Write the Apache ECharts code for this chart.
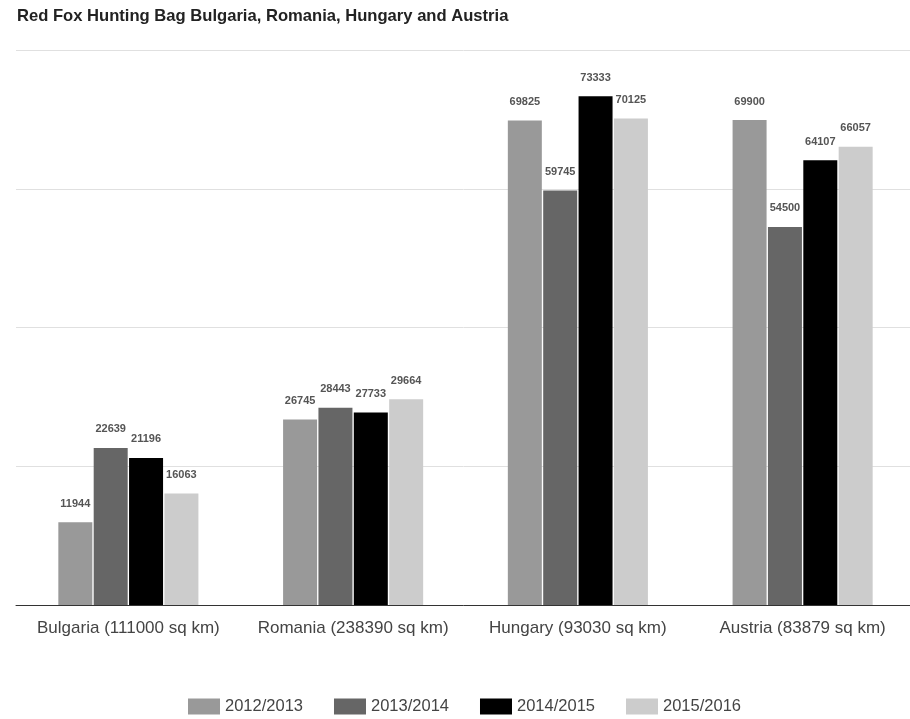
<!DOCTYPE html>
<html><head><meta charset="utf-8">
<script src="https://cdn.jsdelivr.net/npm/echarts@6/dist/echarts.min.js"></script>
<style>html,body{margin:0;padding:0;background:#fff}#c{width:910px;height:719px}</style>
</head><body><div id="c"></div>
<script>
const categories = ['Bulgaria (111000 sq km)', 'Romania (238390 sq km)', 'Hungary (93030 sq km)', 'Austria (83879 sq km)'];
const seriesNames = ['2012/2013', '2013/2014', '2014/2015', '2015/2016'];
const s2012 = [11944, 26745, 69825, 69900];
const s2013 = [22639, 28443, 59745, 54500];
const s2014 = [21196, 27733, 73333, 64107];
const s2015 = [16063, 29664, 70125, 66057];
const colors = ['#999999', '#666666', '#000000', '#cccccc'];
const values = [s2012, s2013, s2014, s2015];

const chart = echarts.init(document.getElementById('c'));
chart.setOption({
  animation: false,
  title: { text: 'Red Fox Hunting Bag Bulgaria, Romania, Hungary and Austria', left: 12, top: 3,
    textStyle: { fontFamily: 'Liberation Sans, Arial', fontSize: 16.6, fontWeight: 'bold', color: '#222' } },
  legend: { top: 693, left: 183, itemWidth: 32, itemHeight: 16, itemGap: 31, icon: 'rect',
    textStyle: { fontFamily: 'Liberation Sans, Arial', fontSize: 16.5, color: '#444' } },
  grid: { left: 16, width: 899, top: 50, height: 555, outerBoundsMode: 'none', containLabel: false },
  xAxis: { type: 'category', data: categories,
    axisLine: { lineStyle: { color: '#333', width: 1 } }, axisTick: { show: false },
    axisLabel: { interval: 0, fontFamily: 'Liberation Sans, Arial', fontSize: 17, color: '#444', margin: 15 } },
  yAxis: { type: 'value', min: 0, max: 80000, interval: 20000,
    axisLabel: { show: false }, axisLine: { show: false }, axisTick: { show: false },
    splitLine: { lineStyle: { color: '#e0e0e0' } } },
  series: seriesNames.map((n, i) => ({
    name: n, type: 'bar', data: values[i], barWidth: 34, barGap: '4%',
    itemStyle: { color: colors[i] },
    label: { show: true, position: 'top', distance: 13, fontFamily: 'Liberation Sans, Arial',
      fontSize: 11, fontWeight: 'bold', color: '#555' }
  }))
});
</script></body></html>
